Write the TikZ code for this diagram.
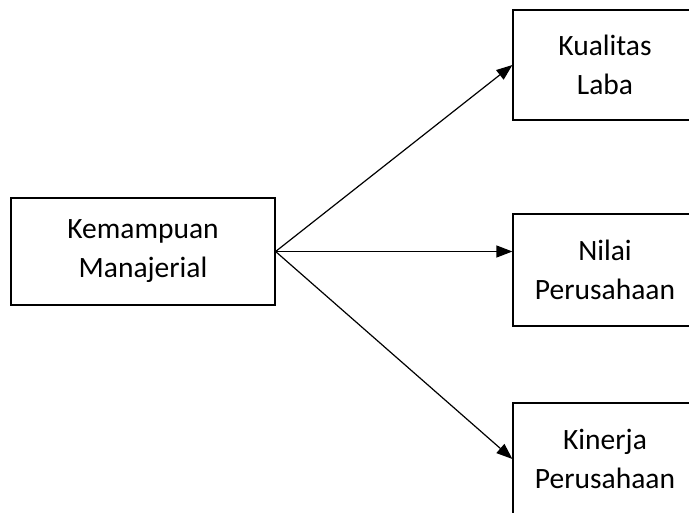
\documentclass[tikz,border=0pt]{standalone}
\usepackage{fontspec}
\setmainfont{Carlito}
\usetikzlibrary{arrows.meta}
\begin{document}
\begin{tikzpicture}[x=1pt,y=-1pt,
  box/.style={draw,line width=1.2pt,rectangle,align=center,inner sep=0pt,
    font=\fontsize{29.5}{39}\selectfont},
  link/.style={line width=1.2pt,-{Triangle[length=16pt,width=12pt]}}]
\clip (0,0) rectangle (689,513);
\fill[white] (0,0) rectangle (689,513);
\node[box,minimum width=264pt,minimum height=107pt] (k) at (143,251.5) {Kemampuan\\Manajerial};
\node[box,minimum width=184pt,minimum height=110pt] (q) at (605,65) {Kualitas\\Laba};
\node[box,minimum width=184pt,minimum height=112pt] (n) at (605,270) {Nilai\\Perusahaan};
\node[box,minimum width=184pt,minimum height=112pt] (p) at (605,459) {Kinerja\\Perusahaan};
\draw[link] (k.east) -- (q.west);
\draw[link] (k.east) -- (n.west |- k.east);
\draw[link] (k.east) -- (p.west);
\end{tikzpicture}
\end{document}
